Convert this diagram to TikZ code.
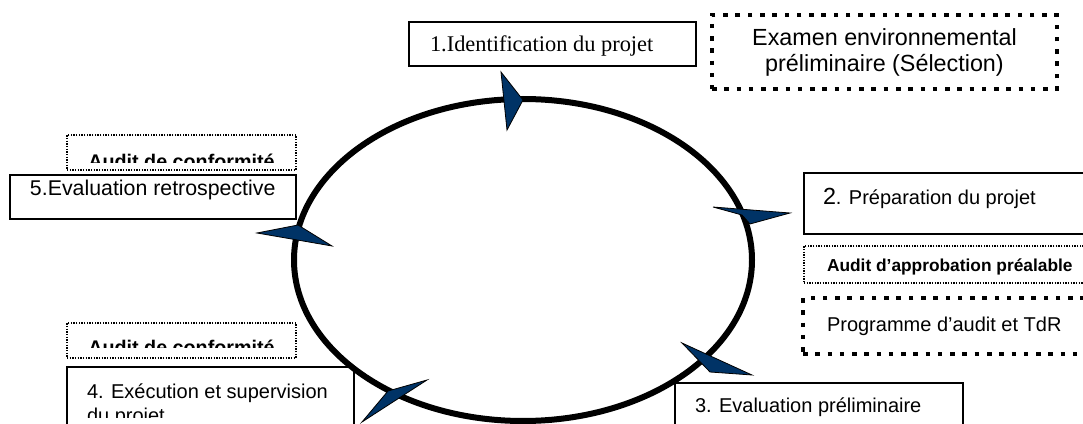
\documentclass[tikz,border=0pt]{standalone}
\usepackage{fontspec}
\setmainfont{Liberation Sans}
\newfontfamily\timesfont{Liberation Serif}

\definecolor{arrowblue}{RGB}{0,51,102}

\begin{document}
\begin{tikzpicture}
[x=0.75pt,y=-0.75pt,
 every node/.style={inner sep=0pt,outer sep=0pt},
 stage/.style={draw,line width=1.25pt,anchor=north west},
 auditbox/.style={draw,line width=1pt,dash pattern=on 1pt off 1pt,anchor=north west},
 outputbox/.style={draw,line width=3.4pt,dash pattern=on 3.4pt off 5.8pt,anchor=north west},
 stagetext/.style={anchor=base west,font=\fontsize{15}{18}\selectfont},
 audittext/.style={anchor=base,font=\bfseries\fontsize{14.8}{17}\selectfont},
 pointer/.style={fill=arrowblue,draw=black,line width=0.6pt,line join=miter}]
\useasboundingbox (0,0) rectangle (1083,424);
\clip (0,0) rectangle (1083,424);

% the cycle
\draw[line width=4.5pt] (523,260) ellipse [x radius=171.75pt, y radius=120.75pt];

% stages
\node[stage,minimum width=215.25pt,minimum height=33pt] (ident) at (409,22) {};
\node[stagetext,font=\timesfont\fontsize{16.8}{20}\selectfont] (identLbl) at (430,52) {1.Identification du projet};
\node[stage,minimum width=222pt,minimum height=45.75pt] (prep) at (804,173) {};
\node[stagetext] (prepLbl) at (823,205) {{\fontsize{17.5}{20}\selectfont 2}. Préparation du projet};
\node[stage,minimum width=216pt,minimum height=42.75pt] (eval) at (675,383) {};
\node[stagetext] (evalLbl) at (695,412) {3. Evaluation préliminaire};
\node[stage,minimum width=215.25pt,minimum height=60pt] (exec) at (67,367) {};
\begin{scope}
\clip (67,367) rectangle (354,417);
\node[stagetext,align=left] (execLbl) at (87,422) {4. Exécution et supervision\\du projet};
\end{scope}
\node[stage,minimum width=214.5pt,minimum height=33pt] (retro) at (10,175) {};
\node[stagetext,font=\fontsize{16}{19}\selectfont] (retroLbl) at (30,196) {5.Evaluation retrospective};

% outputs
\node[outputbox,minimum width=258.75pt,minimum height=55.5pt,align=center,
      font=\fontsize{17.5}{19.5}\selectfont] (screening) at (712,15)
      {Examen environnemental\\préliminaire (Sélection)};
\node[outputbox,minimum width=222.75pt,minimum height=42pt] (tor) at (803,298) {};
\node[stagetext] (torLbl) at (827,332) {Programme d’audit et TdR};

% audits
\node[auditbox,minimum width=171.75pt,minimum height=26.25pt] (auditRetro) at (67,135) {};
\begin{scope}
\clip (67,135) rectangle (296,163);
\node[audittext] (auditRetroLbl) at (181.5,169) {Audit de conformité};
\end{scope}
\node[auditbox,minimum width=222pt,minimum height=27.75pt] (auditPrep) at (804,246) {};
\node[audittext,anchor=base west,font=\bfseries\fontsize{13}{15}\selectfont] (auditPrepLbl) at (827,272) {Audit d’approbation préalable};
\node[auditbox,minimum width=171.75pt,minimum height=26.25pt] (auditExec) at (67,323) {};
\begin{scope}
\clip (67,323) rectangle (296,348);
\node[audittext] (auditExecLbl) at (181.5,354) {Audit de conformité};
\end{scope}

% arrow heads on the cycle
\draw[pointer] (501,72) -- (523,100) -- (507,130) -- cycle;
\draw[pointer] (713,207) -- (790,213) -- (750,224) -- (742,215) -- cycle;
\draw[pointer] (682,343) -- (752,375) -- (710,372) -- cycle;
\draw[pointer] (427,380) -- (388,391) -- (362,422) -- cycle;
\draw[pointer] (257,233) -- (298,225) -- (332,246) -- cycle;
\end{tikzpicture}
\end{document}
